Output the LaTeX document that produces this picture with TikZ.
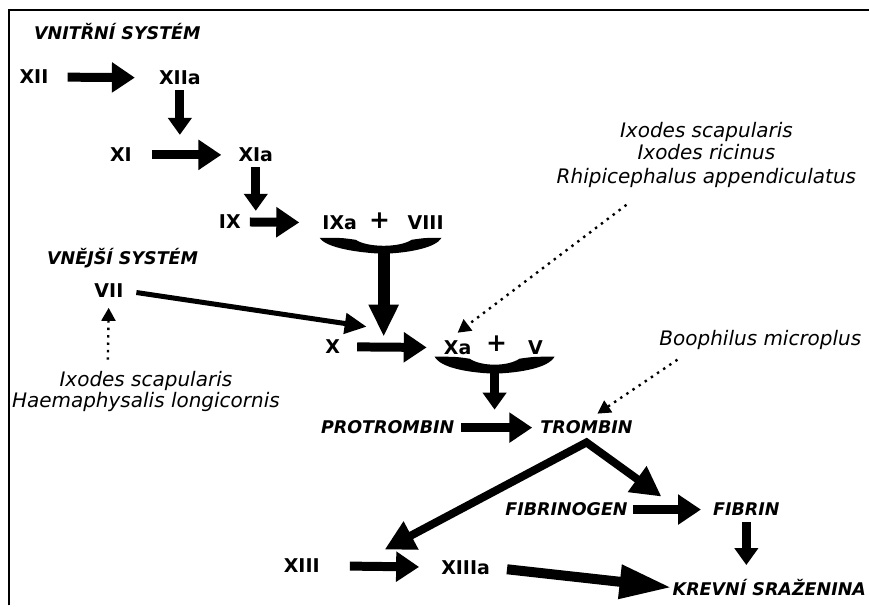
\documentclass[tikz,border=0pt]{standalone}
\usepackage{fontspec}
\setmainfont{DejaVu Sans}
\usetikzlibrary{arrows.meta}

\begin{document}
\begin{tikzpicture}[x=1pt, y=-1pt,
  lab/.style={font=\fontsize{19}{21}\selectfont\bfseries, inner sep=1pt},
  plus/.style={font=\fontsize{25}{25}\selectfont\bfseries, inner sep=1pt},
  sys/.style={font=\fontsize{17.5}{20}\selectfont\bfseries\itshape, inner sep=1pt},
  species/.style={font=\fontsize{20}{23}\selectfont\itshape, align=center, inner sep=1pt},
  block/.style={line width=9pt, -{Triangle[length=23pt,width=29pt]}},
  drop/.style={line width=9pt, -{Triangle[length=17pt,width=23pt]}},
  bigdrop/.style={line width=12pt, -{Triangle[length=32pt,width=28pt]}},
  feed/.style={line width=5pt, -{Triangle[length=22pt,width=20pt]}},
  fork/.style={line width=8pt, line join=miter, {Triangle[length=30pt,width=30pt]}-{Triangle[length=30pt,width=30pt]}},
  longarrow/.style={line width=10pt, -{Triangle[length=52pt,width=32pt]}},
  hint/.style={line width=2.4pt, dash pattern=on 2.4pt off 5pt, -{Triangle[length=13pt,width=14pt]}},
  clot/.style={fill=black}]

\fill[white] (0,0) rectangle (870,606);
\draw[line width=1.5pt] (9,606) -- (9,10) -- (870,10);

% vnitrni system
\node[sys, anchor=west] (intr) at (33,32) {VNITŘNÍ SYSTÉM};
\node[lab] (xii) at (34,77) {XII};
\node[lab] (xiia) at (180,78) {XIIa};
\node[lab] (xi) at (121,155) {XI};
\node[lab] (xia) at (256,155) {XIa};
\node[lab] (ix) at (230,222) {IX};
\node[lab] (ixa) at (340,223) {IXa};
\node[plus] (plusa) at (380,221) {+};
\node[lab] (viii) at (426,223) {VIII};

% vnejsi system
\node[sys, anchor=west] (extr) at (46,258) {VNĚJŠÍ SYSTÉM};
\node[lab] (vii) at (109,291) {VII};
\node[species] (sptwo) at (146,392) {Ixodes scapularis\\[-2pt]Haemaphysalis longicornis};

\node[lab] (x) at (333,347) {X};
\node[lab] (xa) at (458,348) {Xa};
\node[plus] (plusb) at (497,344) {+};
\node[lab] (v) at (536,348) {V};
\node[species] (spone) at (707,155) {Ixodes scapularis\\[-1pt]Ixodes ricinus\\[1pt]Rhipicephalus appendiculatus};
\node[species] (spthree) at (761,340) {Boophilus microplus};

\node[sys] (protr) at (388,428) {PROTROMBIN};
\node[sys] (tromb) at (587,428) {TROMBIN};
\node[sys] (fbg) at (567,510) {FIBRINOGEN};
\node[sys] (fbn) at (747,510) {FIBRIN};
\node[lab] (xiii) at (302,566) {XIII};
\node[lab] (xiiia) at (466,568) {XIIIa};
\node[sys] (krev) at (770,588) {KREVNÍ SRAŽENINA};

% free ends
\coordinate (c1) at (180,135);
\coordinate (c2) at (256,211);
\coordinate (b1) at (384,249);
\coordinate (c3) at (384,337);
\coordinate (c4) at (367,327);
\coordinate (b2) at (495,369);
\coordinate (c5) at (495,410);
\coordinate (apex) at ([yshift=-7pt]tromb.south);
\coordinate (c6) at (385,550);
\coordinate (c7) at (662,497);
\coordinate (d1) at (627,205);
\coordinate (t1) at (458,333);
\coordinate (d2) at (678,360);
\coordinate (t2) at (598,414);
\coordinate (d3) at (108,360);

% brackets
\path[clot] (320,238) .. controls (342,238) .. (356,240)
  .. controls (368,248) and (400,248) .. (412,240)
  .. controls (426,238) .. (442,238)
  .. controls (436,248) and (410,253) .. (384,254)
  .. controls (358,253) and (326,248) .. (320,238) -- cycle;
\path[clot] (435,357) .. controls (456,357) .. (470,359)
  .. controls (482,367) and (508,367) .. (520,359)
  .. controls (534,357) .. (555,357)
  .. controls (549,368) and (522,373) .. (495,374)
  .. controls (468,373) and (441,368) .. (435,357) -- cycle;

% cascade
\draw[block, shorten <=18pt, shorten >=23pt] (xii) -- (xiia);
\draw[drop, shorten <=4pt] (xiia) -- (c1);
\draw[block, shorten <=19pt, shorten >=16pt] (xi) -- (xia);
\draw[drop, shorten <=4pt] (xia) -- (c2);
\draw[block, shorten <=8pt, shorten >=22pt] (ix) -- (ixa);
\draw[bigdrop] (b1) -- (c3);
\draw[feed, shorten <=12pt] (vii.east) -- (c4);
\draw[hint, shorten >=9pt] (d3) -- (vii);
\draw[block, shorten <=16pt, shorten >=16pt] (x) -- (xa);
\draw[hint] (d1) -- (t1);
\draw[drop] (b2) -- (c5);
\draw[block, shorten <=6pt, shorten >=7pt] (protr) -- (tromb);
\draw[hint] (d2) -- (t2);
\draw[fork] (c6) -- (apex) -- (c7);
\draw[block, shorten <=4pt, shorten >=11pt] (fbg) -- (fbn);
\draw[drop, shorten <=5pt, shorten >=13pt] (fbn.south) -- (fbn.south |- krev.north);
\draw[block, shorten <=29pt, shorten >=21pt] (xiii) -- (xiiia);
\draw[longarrow, shorten <=16pt] (xiiia.east) -- (krev.west);
\end{tikzpicture}
\end{document}
